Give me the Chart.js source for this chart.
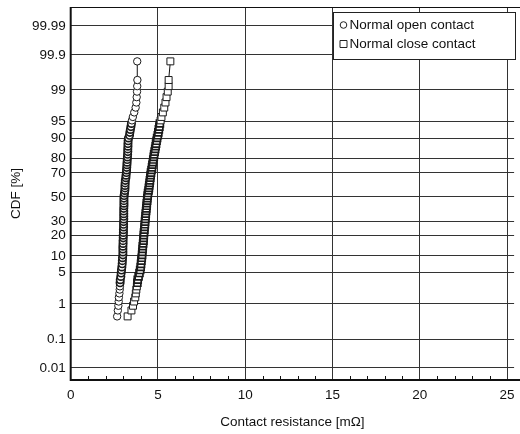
<!DOCTYPE html>
<html>
<head>
    <title>CDF of contact resistance</title>
    <script src="https://cdn.jsdelivr.net/npm/chart.js"></script>
    <style>
        body { margin: 0; background: #fff; }
        #wrap { width: 520px; height: 434px; }
    </style>
</head>
<body>
<div id="wrap"><canvas id="cdfChart"></canvas></div>
<script>
    // CDF plotting positions [%], shared by both series (ascending)
    const cdfPercent = [0.47, 0.68, 0.9, 1.15, 1.45, 1.8, 2.2, 2.6, 3.1, 3.6, 4.2, 4.9, 5.6, 6.4, 7.3, 8.3, 9.3,
        10.4, 11.6, 12.9, 14.2, 15.6, 17.1, 18.7, 20.3, 22.0, 23.8, 25.7, 27.6, 29.6, 31.6, 33.7, 35.8, 38.0,
        40.2, 42.4, 44.6, 46.8, 49.0, 51.2, 53.4, 55.6, 57.8, 59.9, 62.0, 64.1, 66.2, 68.2, 70.2, 72.1, 74.0,
        75.8, 77.5, 79.2, 80.8, 82.3, 83.8, 85.2, 86.5, 87.7, 88.9, 90.0, 91.0, 92.0, 92.9, 93.7, 94.5, 95.2,
        95.9, 96.7, 97.4, 98.0, 98.5, 98.9, 99.2, 99.45, 99.84];

    // contact resistance [mOhm]
    const openContact = [2.66, 2.70, 2.73, 2.75, 2.76, 2.79, 2.81, 2.82, 2.83, 2.84, 2.87, 2.89, 2.91, 2.93, 2.95, 2.96, 2.97,
        2.99, 2.99, 2.99, 2.99, 3.00, 3.00, 3.01, 3.01, 3.02, 3.02, 3.03, 3.03, 3.03, 3.04, 3.04, 3.04, 3.04,
        3.04, 3.05, 3.05, 3.05, 3.05, 3.06, 3.08, 3.10, 3.11, 3.11, 3.12, 3.13, 3.16, 3.17, 3.19, 3.20, 3.21,
        3.22, 3.23, 3.24, 3.25, 3.26, 3.27, 3.27, 3.28, 3.28, 3.29, 3.31, 3.37, 3.39, 3.42, 3.45, 3.48, 3.51,
        3.56, 3.64, 3.72, 3.76, 3.78, 3.80, 3.81, 3.82, 3.81];

    const closeContact = [3.26, 3.48, 3.57, 3.63, 3.70, 3.73, 3.76, 3.79, 3.82, 3.84, 3.89, 3.94, 3.98, 4.01, 4.03, 4.05, 4.07,
        4.09, 4.10, 4.12, 4.13, 4.15, 4.17, 4.18, 4.19, 4.20, 4.22, 4.23, 4.25, 4.26, 4.27, 4.29, 4.30, 4.32,
        4.33, 4.35, 4.36, 4.38, 4.39, 4.41, 4.43, 4.46, 4.48, 4.50, 4.52, 4.54, 4.56, 4.58, 4.60, 4.63, 4.66,
        4.68, 4.71, 4.73, 4.76, 4.78, 4.81, 4.84, 4.87, 4.89, 4.92, 4.95, 4.99, 5.02, 5.05, 5.08, 5.11, 5.15,
        5.20, 5.28, 5.36, 5.43, 5.49, 5.56, 5.61, 5.61, 5.71];

    const seriesNames = ['Normal open contact', 'Normal close contact'];
    const yTickLabels = ['0.01', '0.1', '1', '5', '10', '20', '30', '50', '70', '80', '90', '95', '99', '99.9', '99.99'];
    const xTickValues = [0, 5, 10, 15, 20, 25];

    const FONT = 'Liberation Sans, Arial, sans-serif';

    // inverse standard normal (Acklam) - probability paper axis
    function probit(p) {
        const a = [-3.969683028665376e+01, 2.209460984245205e+02, -2.759285104469687e+02, 1.383577518672690e+02, -3.066479806614716e+01, 2.506628277459239e+00];
        const b = [-5.447609879822406e+01, 1.615858368580409e+02, -1.556989798598866e+02, 6.680131188771972e+01, -1.328068155288572e+01];
        const c = [-7.784894002430293e-03, -3.223964580411365e-01, -2.400758277161838e+00, -2.549732539343734e+00, 4.374664141464968e+00, 2.938163982698783e+00];
        const d = [7.784695709041462e-03, 3.224671290700398e-01, 2.445134137142996e+00, 3.754408661907416e+00];
        const pl = 0.02425;
        let q, r;
        if (p < pl) {
            q = Math.sqrt(-2 * Math.log(p));
            return (((((c[0]*q+c[1])*q+c[2])*q+c[3])*q+c[4])*q+c[5]) / ((((d[0]*q+d[1])*q+d[2])*q+d[3])*q+1);
        } else if (p <= 1 - pl) {
            q = p - 0.5; r = q * q;
            return (((((a[0]*r+a[1])*r+a[2])*r+a[3])*r+a[4])*r+a[5])*q / (((((b[0]*r+b[1])*r+b[2])*r+b[3])*r+b[4])*r+1);
        }
        q = Math.sqrt(-2 * Math.log(1 - p));
        return -(((((c[0]*q+c[1])*q+c[2])*q+c[3])*q+c[4])*q+c[5]) / ((((d[0]*q+d[1])*q+d[2])*q+d[3])*q+1);
    }

    function toPoints(xs) {
        return xs.map((x, i) => ({ x: x, y: probit(cdfPercent[i] / 100) }));
    }

    // overlapping markers in the crowded middle look darker in the original
    function markerBorder(c) {
        const p = cdfPercent[c.dataIndex];
        return (p > 3 && p < 95) ? 1.7 : 1;
    }

    // frame (open on the right), minor ticks, legend box inside the plot
    const extrasPlugin = {
        id: 'extras',
        afterDraw(chart) {
            const ctx = chart.ctx;
            const area = chart.chartArea;
            const xs = chart.scales.x;
            ctx.save();
            ctx.strokeStyle = '#111';
            ctx.lineWidth = 1;
            ctx.beginPath();
            for (let v = 1; v <= 25; v++) {
                if (v % 5 === 0) continue;
                const px = Math.round(xs.getPixelForValue(v)) + 0.5;
                ctx.moveTo(px, area.bottom);
                ctx.lineTo(px, area.bottom - 4);
            }
            ctx.moveTo(area.left, area.top + 0.5);
            ctx.lineTo(chart.width, area.top + 0.5);
            ctx.stroke();
            ctx.lineWidth = 2;
            ctx.beginPath();
            ctx.moveTo(area.left, area.top);
            ctx.lineTo(area.left, area.bottom);
            ctx.lineTo(chart.width, area.bottom);
            ctx.stroke();

            // legend
            const bx = 333.5, by = 12.5, bw = 182, bh = 47;
            ctx.fillStyle = '#fff';
            ctx.fillRect(bx, by, bw, bh);
            ctx.lineWidth = 1;
            ctx.strokeStyle = '#222';
            ctx.strokeRect(bx, by, bw, bh);
            ctx.font = '13.5px ' + FONT;
            ctx.textBaseline = 'middle';
            ctx.fillStyle = '#111';
            const rows = [25, 44];
            chart.data.datasets.forEach((ds, i) => {
                const cy = rows[i];
                ctx.beginPath();
                if (ds.pointStyle === 'circle') {
                    ctx.arc(343.5, cy, 3.3, 0, Math.PI * 2);
                } else {
                    ctx.rect(340, cy - 3.5, 7, 7);
                }
                ctx.strokeStyle = '#222';
                ctx.stroke();
                ctx.fillText(ds.label, 349.5, cy + 0.5);
            });
            ctx.restore();
        }
    };

    const ctx = document.getElementById('cdfChart').getContext('2d');
    const chart = new Chart(ctx, {
        type: 'scatter',
        data: {
            datasets: [{
                label: seriesNames[0],
                data: toPoints(openContact),
                showLine: true,
                borderColor: '#111',
                borderWidth: 1,
                pointStyle: 'circle',
                pointRadius: 3.7,
                pointBackgroundColor: '#fff',
                pointBorderColor: '#1a1a1a',
                pointBorderWidth: markerBorder
            }, {
                label: seriesNames[1],
                data: toPoints(closeContact),
                showLine: true,
                borderColor: '#111',
                borderWidth: 1,
                pointStyle: 'rect',
                pointRadius: 4.9,
                pointBackgroundColor: '#fff',
                pointBorderColor: '#1a1a1a',
                pointBorderWidth: markerBorder
            }]
        },
        options: {
            responsive: true,
            maintainAspectRatio: false,
            animation: false,
            layout: { padding: { top: 7, right: 0, left: 0, bottom: 0 } },
            plugins: { legend: { display: false }, tooltip: { enabled: false } },
            scales: {
                x: {
                    type: 'linear',
                    min: 0,
                    max: 25.4,
                    afterBuildTicks: s => { s.ticks = xTickValues.map(v => ({ value: v })); },
                    afterFit: s => { s.height = 54; s.paddingLeft = 0; s.paddingRight = 0; },
                    grid: { color: '#333', lineWidth: 1, drawTicks: false },
                    border: { display: false },
                    ticks: { color: '#111', font: { family: FONT, size: 13.5 }, padding: 7 },
                    title: { display: true, text: 'Contact resistance [mΩ]', color: '#111',
                        font: { family: FONT, size: 13.5 }, padding: { top: 0, bottom: 4 } }
                },
                y: {
                    type: 'linear',
                    min: -3.98,
                    max: 4.13,
                    afterBuildTicks: s => { s.ticks = yTickLabels.map(t => ({ value: probit(parseFloat(t) / 100) })); },
                    afterFit: s => { s.width = 70.7; s.paddingTop = 0; s.paddingBottom = 0; },
                    grid: { color: '#333', lineWidth: 1, drawTicks: false },
                    border: { display: false },
                    ticks: {
                        color: '#111', font: { family: FONT, size: 13.5 }, padding: 5,
                        callback: (v, i) => yTickLabels[i]
                    },
                    title: { display: true, text: 'CDF [%]', color: '#111',
                        font: { family: FONT, size: 13.5 }, padding: { top: 8, bottom: 0 } }
                }
            }
        },
        plugins: [extrasPlugin]
    });
</script>
</body>
</html>
